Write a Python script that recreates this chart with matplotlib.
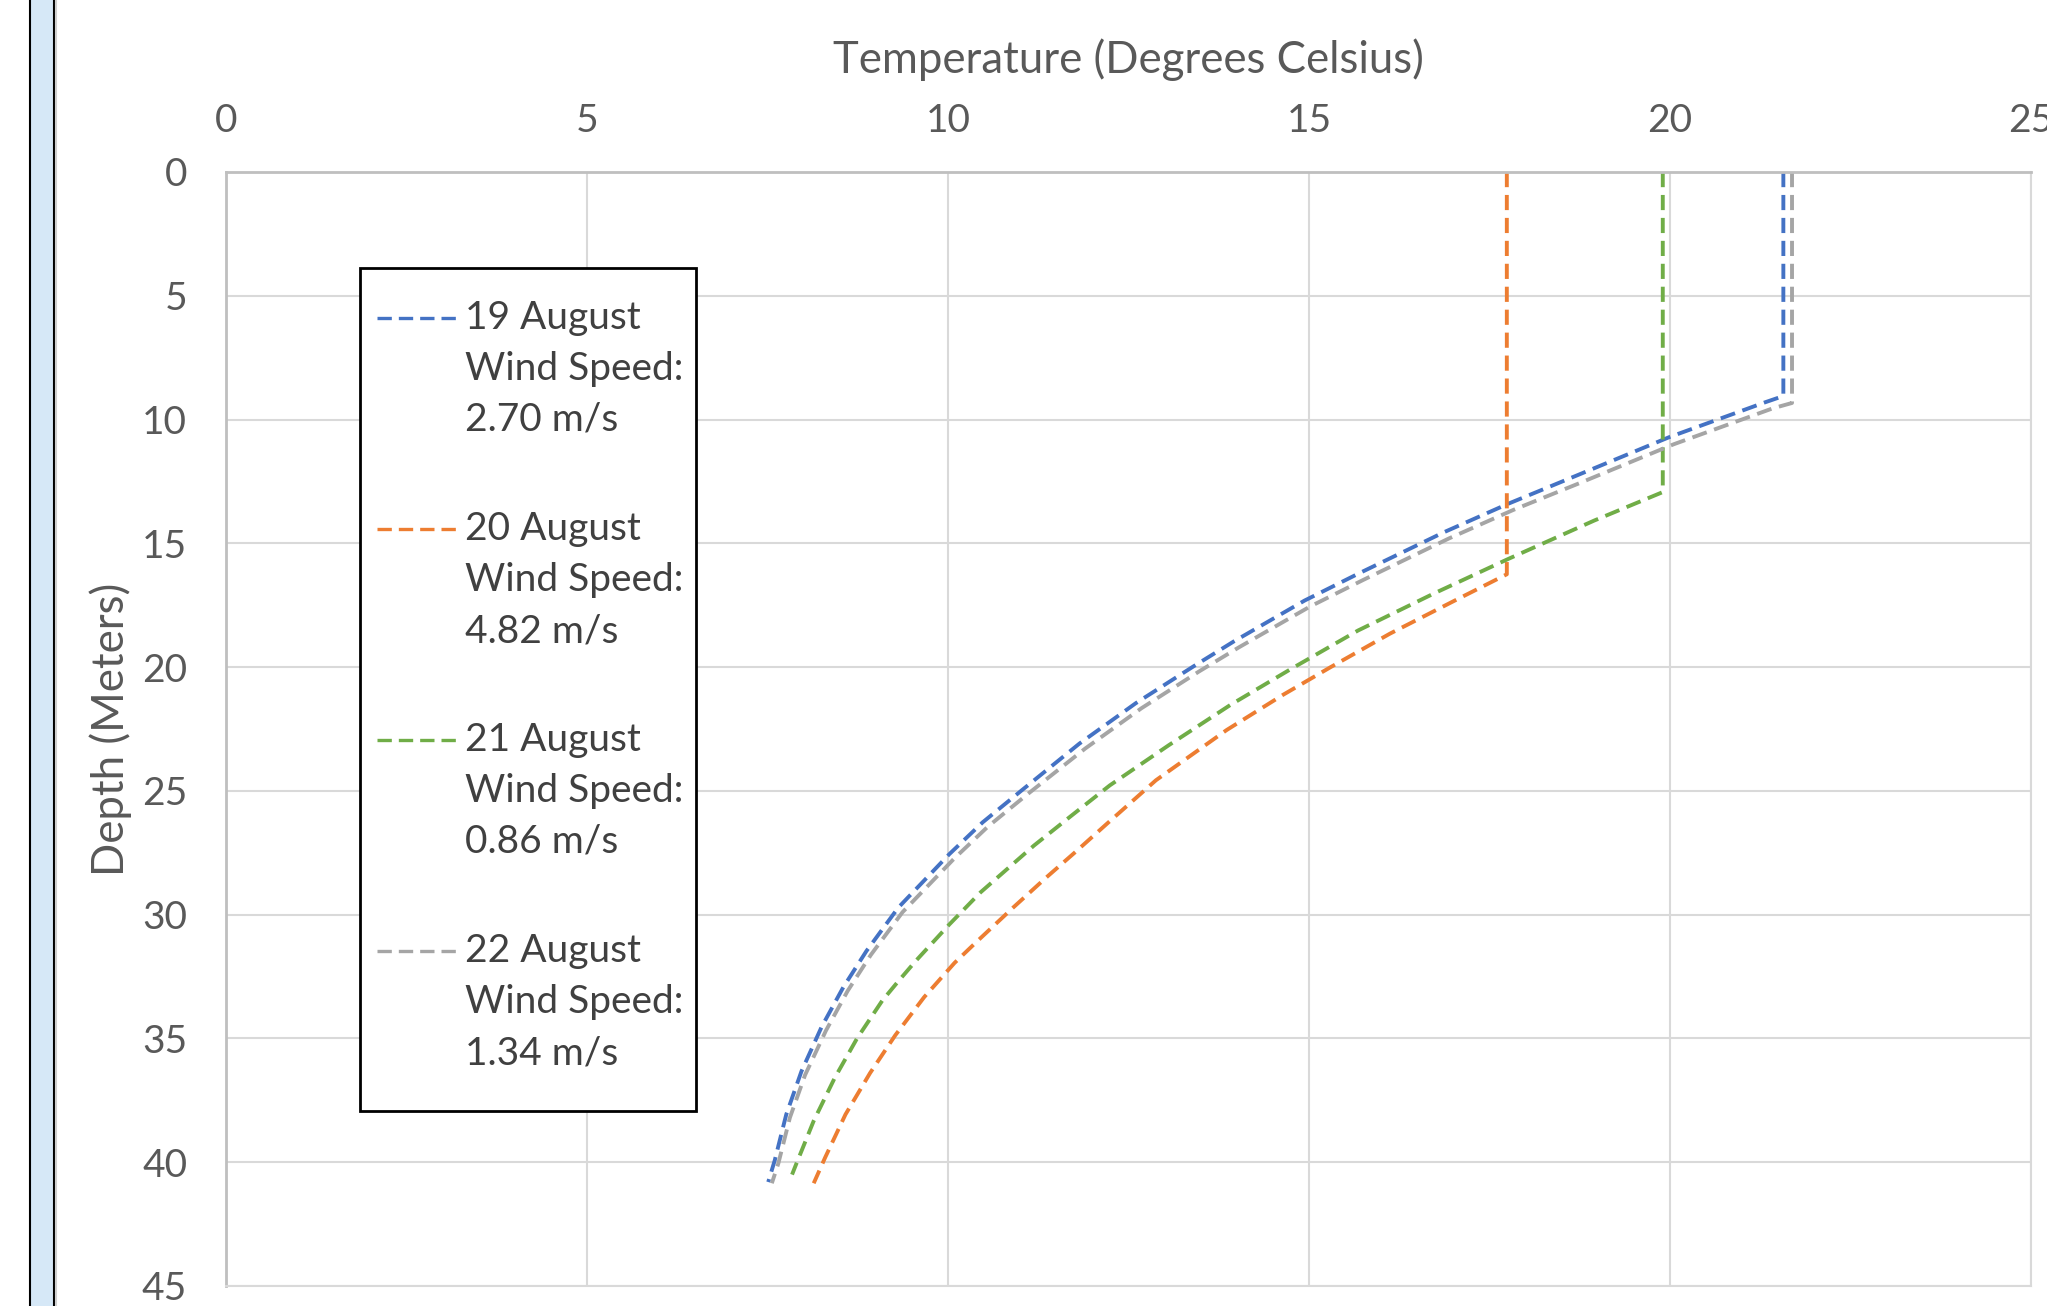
import matplotlib
matplotlib.use("Agg")
import matplotlib.pyplot as plt
from matplotlib.patches import Rectangle
from matplotlib.lines import Line2D

plt.rcParams['font.family'] = ['Lato', 'DejaVu Sans']

# series (temperature in deg C, depth in m)
days = ["19 August", "20 August", "21 August", "22 August"]
wind = ["2.70 m/s", "4.82 m/s", "0.86 m/s", "1.34 m/s"]
colors = ["#4472C4", "#ED7D31", "#70AD47", "#A5A5A5"]

temp_19 = [21.57, 21.57, 21.32, 19.99, 18.65, 17.76, 16.87, 15.68, 14.94, 13.96,
           13.4, 12.6, 11.82, 11.02, 10.48, 10.02, 9.31, 8.87, 8.55, 8.25,
           7.97, 7.76, 7.6, 7.51]
depth_19 = [0, 9.05, 9.3, 10.71, 12.33, 13.4, 14.55, 16.23, 17.31, 18.96,
            19.97, 21.46, 23.09, 24.98, 26.27, 27.55, 29.72, 31.47, 32.93, 34.53,
            36.33, 38.07, 39.93, 40.8]

temp_20 = [17.74, 17.74, 17.02, 16.12, 15.3, 14.64, 13.86, 12.88, 12.2, 11.76,
           11.36, 10.9, 10.38, 10.09, 9.67, 9.27, 8.92, 8.58, 8.3, 8.14]
depth_20 = [0, 16.25, 17.31, 18.65, 20.0, 21.12, 22.54, 24.57, 26.33, 27.48,
            28.5, 29.72, 31.14, 31.95, 33.33, 34.87, 36.4, 38.07, 39.8, 40.85]

temp_21 = [19.9, 19.9, 18.95, 17.76, 16.72, 15.68, 14.73, 13.91, 13.06, 12.24,
           11.71, 11.19, 10.45, 10.02, 9.55, 9.3, 9.09, 8.74, 8.43, 8.14,
           7.89, 7.84]
depth_21 = [0, 12.93, 14.08, 15.63, 17.04, 18.52, 20.11, 21.53, 23.15, 24.78,
            26.0, 27.21, 29.1, 30.39, 31.88, 32.73, 33.47, 35.0, 36.6, 38.33,
            40.13, 40.5]

temp_22 = [21.69, 21.69, 21.42, 20.05, 18.72, 17.83, 16.94, 15.75, 15.01, 14.03,
           13.48, 12.68, 11.9, 11.09, 10.55, 10.09, 9.37, 8.93, 8.61, 8.31,
           8.02, 7.81, 7.65, 7.56]
depth_22 = [0, 9.33, 9.55, 11.0, 12.6, 13.65, 14.8, 16.48, 17.56, 19.2,
            20.17, 21.66, 23.29, 25.16, 26.45, 27.72, 29.9, 31.63, 33.08, 34.68,
            36.48, 38.2, 40.05, 40.85]

temps = [temp_19, temp_20, temp_21, temp_22]
depths = [depth_19, depth_20, depth_21, depth_22]

W, H = 2047, 1306
L, R, T, B = 226, 2031, 172, 1286

fig = plt.figure(figsize=(W / 100, H / 100), dpi=100)
ax = fig.add_axes([L / W, (H - B) / H, (R - L) / W, (B - T) / H])

# blue window strip at the left edge
fig.add_artist(Rectangle((29 / W, 0), 26 / W, 1, transform=fig.transFigure,
                         facecolor="#D6E8F7", edgecolor="none"))
for xp, c in [(30, "black"), (54, "black"), (56, "#CFCFCF")]:
    fig.add_artist(Line2D([xp / W, xp / W], [0, 1], transform=fig.transFigure,
                          color=c, lw=1.5))

LW = 2.8
DASH = (3.9, 2.0)
for t, d, c in zip(temps, depths, colors):
    ax.plot(t, d, color=c, lw=LW, dashes=DASH)

ax.set_xlim(0, 25)
ax.set_ylim(45, 0)
ax.set_xticks(range(0, 26, 5))
ax.set_yticks(range(0, 46, 5))
ax.xaxis.tick_top()
ax.tick_params(length=0, labelsize=28, colors="#595959")
ax.tick_params(axis="x", pad=24)
ax.tick_params(axis="y", pad=28)
ax.grid(color="#D9D9D9", lw=1.5)
ax.set_axisbelow(True)
for s in ["top", "left"]:
    ax.spines[s].set_color("#BFBFBF")
    ax.spines[s].set_linewidth(2)
for s in ["right", "bottom"]:
    ax.spines[s].set_color("#D9D9D9")
    ax.spines[s].set_linewidth(1.5)

ax.set_xlabel("Temperature (Degrees Celsius)", fontsize=31.5, color="#595959")
ax.xaxis.set_label_position("top")
ax.xaxis.label.set_va("center")
ax.xaxis.set_label_coords(0.5, (B - 60) / (B - T))
ax.set_ylabel("Depth (Meters)", fontsize=31.5, color="#595959")
ax.yaxis.label.set_va("center")
ax.yaxis.set_label_coords((111 - L) / (R - L), 0.5)


def axx(px):
    return (px - L) / (R - L)


def axy(py):
    return (B - py) / (B - T)


# legend box
ax.add_patch(Rectangle((axx(360), axy(1111)), axx(696) - axx(360), axy(268) - axy(1111),
                       transform=ax.transAxes, facecolor="white", edgecolor="black",
                       lw=2, zorder=5))
for i in range(4):
    y0 = 318 + 211 * i
    ax.add_line(Line2D([axx(377), axx(457)], [axy(y0), axy(y0)], transform=ax.transAxes,
                       color=colors[i], lw=2.4, dashes=(4.3, 2.1), zorder=6))
    lines = [days[i], "Wind Speed:", wind[i]]
    for k, s in enumerate(lines):
        ax.text(axx(465), axy(y0 + 51 * k), s, transform=ax.transAxes, fontsize=28,
                color="#404040", ha="left", va="center", zorder=6)

fig.savefig("out.png", dpi=100)
